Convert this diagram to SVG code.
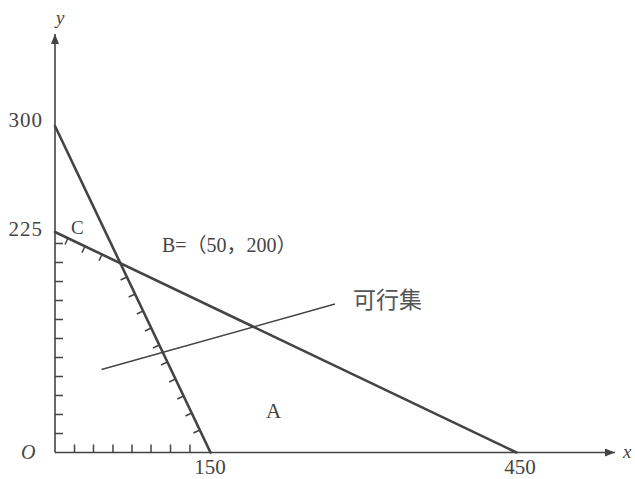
<svg xmlns="http://www.w3.org/2000/svg" width="635" height="479" viewBox="0 0 635 479">
  <defs>
    <style>
      .ax { stroke: #444; stroke-width: 1.6; fill: none; }
      .ln { stroke: #444; stroke-width: 2.6; fill: none; stroke-linecap: round; }
      .tk { stroke: #444; stroke-width: 1.5; fill: none; }
      .pt { stroke: #444; stroke-width: 1.5; fill: none; }
      .t { font-family: "Liberation Serif", "Noto Sans CJK SC", serif; fill: #444; }
      .it { font-style: italic; }
      .num { font-size: 21px; }
      .cjk { font-family: "Noto Sans CJK SC", sans-serif; fill: #555; }
    </style>
    <marker id="arr" viewBox="0 0 10 8" refX="10" refY="4" markerWidth="10" markerHeight="8" markerUnits="userSpaceOnUse" orient="auto">
      <path d="M0,0 L10,4 L0,8 Z" fill="#444"/>
    </marker>
  </defs>

  <rect width="635" height="479" fill="#fff"/>

  <g id="axes">
    <line class="ax" x1="55" y1="452.5" x2="615" y2="452.5" marker-end="url(#arr)"/>
    <line class="ax" x1="55" y1="452.5" x2="55" y2="34" marker-end="url(#arr)"/>
  </g>

  <g id="axis-ticks">
    <path class="tk" d="M55,433.5h8 M55,414.5h8 M55,395.5h8 M55,376.5h8 M55,357.5h8 M55,338.5h8 M55,319.5h8 M55,300.5h8 M55,281.5h8 M55,262.5h8 M55,243.5h8"/>
    <path class="tk" d="M74.5,452.5v-8 M93.5,452.5v-8 M113,452.5v-8 M132,452.5v-8 M151,452.5v-8 M170.5,452.5v-8 M190,452.5v-8"/>
  </g>

  <g id="connectors">
    <line id="line1" class="ln" x1="55" y1="126" x2="210.5" y2="452.5"/>
    <line id="line2" class="ln" x1="55" y1="232" x2="516.5" y2="452.5"/>
    <line id="pointer" class="pt" x1="101.5" y1="369.5" x2="335" y2="304"/>
  </g>

  <g id="hatch-line1">
    <path class="tk" d="M126.9,277l-6.3,3 M135,294l-6.3,3 M143.1,311l-6.3,3 M151.2,328l-6.3,3 M159.3,345l-6.3,3 M167.4,362l-6.3,3 M175.5,379l-6.3,3 M183.6,396l-6.3,3 M191.7,413l-6.3,3 M199.8,430l-6.3,3"/>
  </g>
  <g id="hatch-line2">
    <path class="tk" d="M68,238.2l-3,6.3 M85,246.3l-3,6.3 M102,254.5l-3,6.3"/>
  </g>

  <g id="labels">
    <text class="t it" x="56" y="24" font-size="19">y</text>
    <text class="t it" x="623" y="458" font-size="19">x</text>
    <text class="t it" x="21" y="459" font-size="20">O</text>
    <text class="t num" x="43" y="127" text-anchor="end" letter-spacing="1">300</text>
    <text class="t num" x="43" y="236" text-anchor="end" letter-spacing="1">225</text>
    <text class="t num" x="210" y="473.5" text-anchor="middle">150</text>
    <text class="t num" x="520" y="473.5" text-anchor="middle">450</text>
    <text class="t" x="71" y="234" font-size="19">C</text>
    <text class="t" x="162" y="252" font-size="20">B=（50，200）</text>
    <text class="t" x="266" y="418" font-size="21">A</text>
    <text class="cjk" x="353" y="308" font-size="23">可行集</text>
  </g>
</svg>
